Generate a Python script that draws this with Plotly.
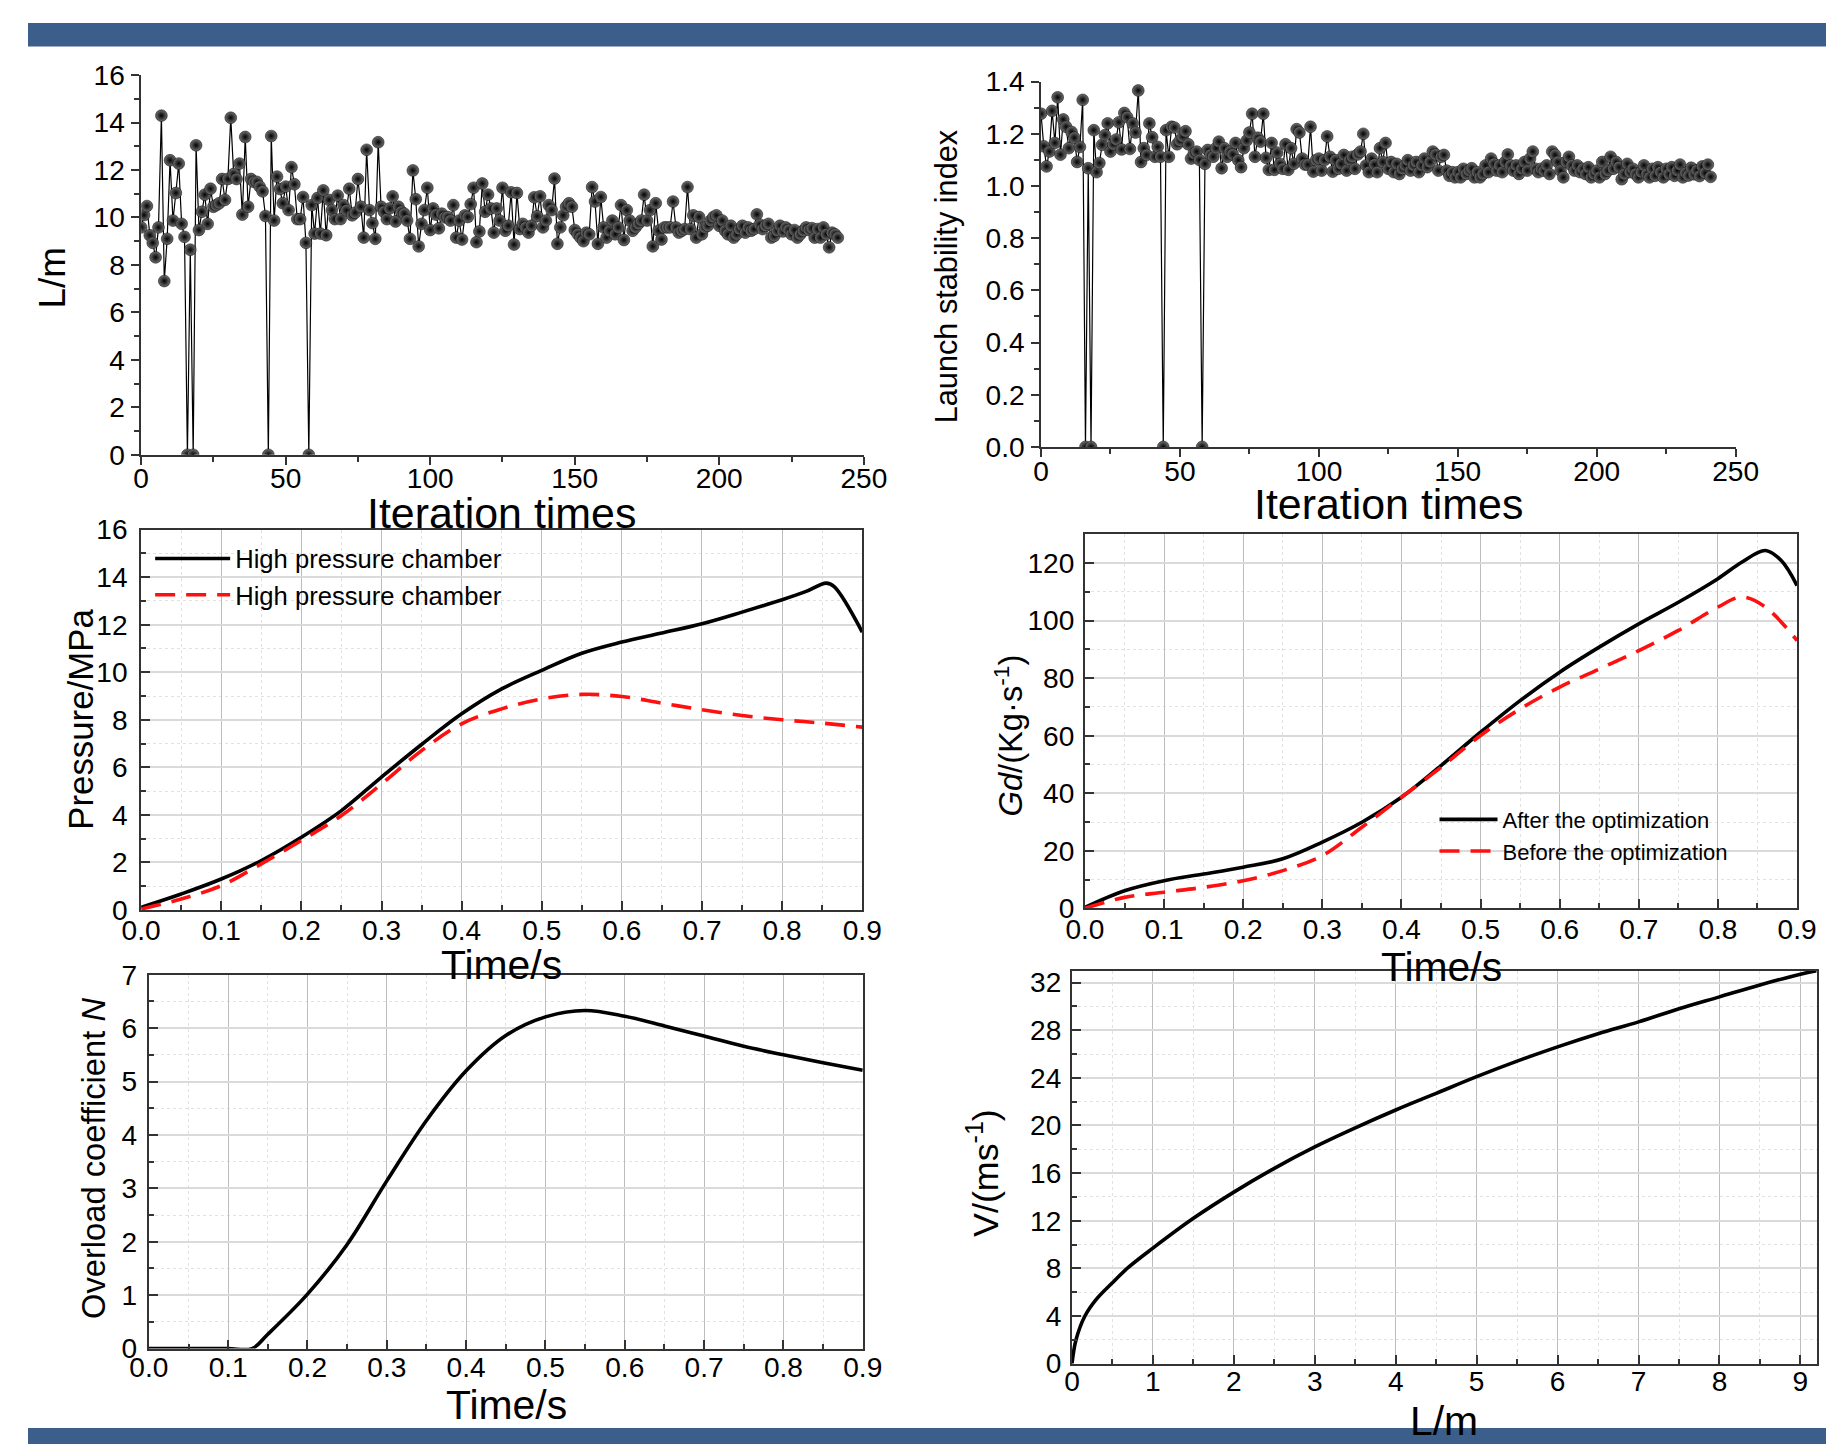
import plotly.graph_objects as go

# ---------------- data ----------------
L_iter = [
    9.58, 10.1, 10.48, 9.25, 8.93, 8.32, 9.58, 14.29, 7.32, 9.1,
    12.41, 9.87, 11.03, 12.27, 9.73, 9.18, 0, 8.64, 0, 13.04,
    9.47, 10.24, 10.96, 9.73, 11.21, 10.45, 10.52, 10.6, 11.62, 10.74,
    11.62, 14.2, 11.83, 11.62, 12.27, 10.12, 13.39, 10.45, 11.62, 11.5,
    11.5, 11.3, 11.1, 10.06, 0, 13.43, 9.87, 11.72, 11.2, 10.6,
    11.3, 10.31, 12.12, 11.4, 9.93, 9.93, 10.86, 8.93, 0, 10.52,
    9.32, 10.82, 9.32, 11.14, 9.25, 10.74, 10.31, 9.93, 10.92, 9.93,
    10.52, 10.3, 11.21, 10.09, 10.2, 11.62, 10.45, 9.15, 12.85, 10.31,
    9.76, 9.1, 13.17, 10.45, 10.24, 9.93, 10.38, 10.89, 9.83, 10.45,
    10.24, 10.16, 9.87, 9.1, 11.98, 10.77, 8.78, 9.73, 10.31, 11.25,
    9.47, 10.38, 10.12, 9.54, 10.16, 10.0, 10.02, 9.87, 10.52, 9.15,
    9.87, 9.07, 10.09, 10.02, 10.56, 11.25, 8.96, 9.41, 11.43, 10.24,
    10.96, 10.38, 9.36, 10.38, 9.87, 11.25, 9.44, 9.65, 11.06, 8.86,
    11.03, 9.51, 9.73, 9.58, 9.36, 9.65, 10.85, 10.05, 10.89, 9.58,
    9.87, 10.52, 10.31, 11.64, 8.89, 9.58, 10.09, 10.45, 10.6, 10.45,
    9.47, 9.3, 9.15, 9.0, 9.36, 9.29, 11.28, 10.67, 8.89, 10.86,
    9.58, 9.15, 9.44, 9.87, 9.29, 9.58, 10.52, 9.05, 10.31, 9.87,
    9.44, 9.58, 9.73, 9.87, 10.96, 9.87, 10.31, 8.78, 10.6, 9.44,
    9.07, 9.58, 9.58, 9.58, 10.67, 9.58, 9.36, 9.44, 9.51, 11.28,
    9.51, 10.09, 9.15, 10.02, 9.29, 9.58, 9.65, 9.87, 10.02, 10.09,
    9.65, 9.87, 9.44, 9.29, 9.65, 9.15, 9.29, 9.51, 9.65, 9.36,
    9.58, 9.44, 9.51, 10.13, 9.7, 9.51, 9.65, 9.73, 9.15, 9.22,
    9.44, 9.65, 9.41, 9.58, 9.47, 9.29, 9.47, 9.15, 9.29, 9.44,
    9.58, 9.47, 9.55, 9.15, 9.51, 9.15, 9.58, 9.29, 8.74, 9.36,
    9.29, 9.15,
]

stability_iter = [
    1.277, 1.152, 1.075, 1.132, 1.288, 1.165, 1.34, 1.12, 1.255, 1.227,
    1.145, 1.207, 1.185, 1.092, 1.15, 1.33, 0, 1.068, 0, 1.214,
    1.053, 1.088, 1.158, 1.195, 1.24, 1.132, 1.16, 1.178, 1.244, 1.14,
    1.28, 1.264, 1.142, 1.24, 1.205, 1.366, 1.092, 1.145, 1.119, 1.24,
    1.187, 1.112, 1.15, 1.112, 0, 1.214, 1.112, 1.227, 1.224, 1.16,
    1.174, 1.19, 1.21, 1.16, 1.105, 1.125, 1.132, 1.10, 0, 1.085,
    1.138, 1.119, 1.112, 1.145, 1.17, 1.068, 1.145, 1.112, 1.132, 1.121,
    1.165, 1.099, 1.072, 1.145, 1.174, 1.205, 1.277, 1.112, 1.185, 1.17,
    1.277, 1.108, 1.062, 1.165, 1.062, 1.128, 1.085, 1.066, 1.16, 1.062,
    1.145, 1.085, 1.218, 1.205, 1.105, 1.082, 1.082, 1.227, 1.055, 1.099,
    1.105, 1.059, 1.099, 1.19, 1.112, 1.055, 1.099, 1.066, 1.085, 1.119,
    1.059, 1.099, 1.112, 1.066, 1.121, 1.132, 1.2, 1.079, 1.053, 1.105,
    1.082, 1.053, 1.145, 1.092, 1.165, 1.066, 1.092, 1.053, 1.085, 1.046,
    1.066, 1.079, 1.099, 1.059, 1.079, 1.092, 1.053, 1.079, 1.105, 1.072,
    1.092, 1.132, 1.121, 1.059, 1.112, 1.119, 1.059, 1.039, 1.053, 1.033,
    1.053, 1.033, 1.066, 1.046, 1.059, 1.068, 1.033, 1.053, 1.033, 1.046,
    1.079, 1.053, 1.105, 1.085, 1.059, 1.079, 1.053, 1.092, 1.121, 1.079,
    1.059, 1.079, 1.046, 1.066, 1.092, 1.059, 1.105, 1.132, 1.066, 1.053,
    1.066, 1.059, 1.079, 1.046, 1.132, 1.119, 1.092, 1.059, 1.033, 1.092,
    1.112, 1.079, 1.059, 1.079, 1.053, 1.066, 1.046, 1.072, 1.033, 1.046,
    1.059, 1.033, 1.092, 1.046, 1.059, 1.112, 1.066, 1.092, 1.072, 1.026,
    1.046, 1.085, 1.053, 1.066, 1.046, 1.033, 1.053, 1.079, 1.046, 1.033,
    1.066, 1.039, 1.072, 1.053, 1.033, 1.066, 1.046, 1.072, 1.039, 1.059,
    1.082, 1.033, 1.05, 1.04, 1.07, 1.045, 1.06, 1.038, 1.075, 1.05,
    1.082, 1.035,
]

# Pressure vs time
t_p = [0.0, 0.05, 0.1, 0.15, 0.2, 0.25, 0.3, 0.35, 0.4, 0.45, 0.5, 0.55,
       0.6, 0.65, 0.7, 0.75, 0.8, 0.83, 0.855, 0.865, 0.9]
p_after = [0.11, 0.67, 1.3, 2.08, 3.06, 4.18, 5.59, 6.96, 8.25, 9.3, 10.08, 10.8,
           11.27, 11.65, 12.04, 12.53, 13.05, 13.4, 13.75, 13.6, 11.69]
t_p2 = [0.0, 0.05, 0.1, 0.15, 0.2, 0.25, 0.3, 0.35, 0.4, 0.45, 0.5, 0.55,
        0.6, 0.65, 0.7, 0.75, 0.8, 0.85, 0.9]
p_before = [0.04, 0.46, 1.02, 1.94, 2.92, 3.97, 5.3, 6.7, 7.83, 8.46, 8.88, 9.07,
            8.98, 8.7, 8.42, 8.18, 8.0, 7.86, 7.69]

# Gd vs time
t_g = [0.0, 0.05, 0.1, 0.15, 0.2, 0.25, 0.3, 0.35, 0.4, 0.45, 0.5, 0.55,
       0.6, 0.65, 0.7, 0.75, 0.8, 0.83, 0.86, 0.88, 0.9]
g_after = [0.3, 6.1, 9.6, 11.9, 14.3, 17.2, 23.0, 29.9, 38.6, 49.6, 61.2, 72.2,
           82.1, 90.8, 98.9, 106.4, 114.6, 120.3, 124.4, 120.9, 112.2]
t_g2 = [0.0, 0.05, 0.1, 0.15, 0.2, 0.25, 0.3, 0.35, 0.4, 0.45, 0.5, 0.55,
        0.6, 0.65, 0.7, 0.75, 0.8, 0.83, 0.86, 0.9]
g_before = [0.0, 3.8, 5.6, 7.3, 9.6, 13.1, 18.3, 28.2, 38.6, 49.0, 60.1, 69.3,
            76.9, 83.2, 89.6, 96.6, 104.7, 108.2, 104.7, 93.1]

# Overload coefficient vs time
t_n = [0.0, 0.05, 0.1, 0.13, 0.15, 0.2, 0.25, 0.3, 0.35, 0.4, 0.45, 0.5, 0.55,
       0.6, 0.65, 0.7, 0.75, 0.8, 0.85, 0.9]
n_coef = [0, 0, 0, 0, 0.27, 1.02, 1.95, 3.14, 4.27, 5.2, 5.86, 6.21, 6.33,
          6.22, 6.04, 5.85, 5.66, 5.5, 5.35, 5.21]

# Velocity vs displacement
L_v = [0.0, 0.05, 0.16, 0.3, 0.5, 0.7, 1.0, 1.5, 2.0, 2.5, 3.0, 3.5, 4.0,
       4.5, 5.0, 5.5, 6.0, 6.5, 7.0, 7.5, 8.0, 8.5, 9.0, 9.2]
v_vel = [0.0, 2.0, 4.0, 5.4, 6.8, 8.1, 9.7, 12.2, 14.4, 16.4, 18.2, 19.8, 21.3,
         22.7, 24.1, 25.4, 26.6, 27.7, 28.7, 29.8, 30.8, 31.8, 32.7, 33.0]

# ---------------- layout helpers ----------------
# The photographed page is scaled by S and offset by (OX, OY); positions below
# are target pixel positions in the final picture, converted to paper coords.
W, H = 1850, 1454
S, OX, OY = 0.978, 25.7, 23.0
FONT = "Liberation Sans, Arial, sans-serif"


def px(X):
    return (X - OX) / S / W


def py(Y):
    return 1 - (Y - OY) / S / H


def xd(a, b):
    return [max(0, px(a)), min(1, px(b))]


def yd(top, bottom):
    return [max(0, py(bottom)), min(1, py(top))]


def fs(v):
    return round(v / S, 1)


fig = go.Figure()

marker_ball = dict(size=fs(11.5), color="#707070",
                   gradient=dict(type="radial", color="#000000"),
                   line=dict(width=0.5, color="#000000"))

fig.add_trace(go.Scatter(x=list(range(len(L_iter))), y=L_iter, mode="lines+markers",
                         line=dict(color="black", width=1.2), marker=marker_ball,
                         xaxis="x", yaxis="y", showlegend=False))
fig.add_trace(go.Scatter(x=list(range(len(stability_iter))), y=stability_iter,
                         mode="lines+markers",
                         line=dict(color="black", width=1.2), marker=marker_ball,
                         xaxis="x2", yaxis="y2", showlegend=False))

fig.add_trace(go.Scatter(x=t_p, y=p_after, mode="lines", name="High pressure chamber",
                         line=dict(color="black", width=3.6, shape="spline"),
                         xaxis="x3", yaxis="y3", legend="legend"))
fig.add_trace(go.Scatter(x=t_p2, y=p_before, mode="lines", name="High pressure chamber",
                         line=dict(color="#ff1010", width=3.6, dash="20px,11px", shape="spline"),
                         xaxis="x3", yaxis="y3", legend="legend"))

fig.add_trace(go.Scatter(x=t_g, y=g_after, mode="lines", name="After the optimization",
                         line=dict(color="black", width=3.6, shape="spline"),
                         xaxis="x4", yaxis="y4", legend="legend2"))
fig.add_trace(go.Scatter(x=t_g2, y=g_before, mode="lines", name="Before the optimization",
                         line=dict(color="#ff1010", width=3.6, dash="20px,11px", shape="spline"),
                         xaxis="x4", yaxis="y4", legend="legend2"))

fig.add_trace(go.Scatter(x=t_n, y=n_coef, mode="lines",
                         line=dict(color="black", width=3.6, shape="spline"),
                         xaxis="x5", yaxis="y5", showlegend=False))
fig.add_trace(go.Scatter(x=L_v, y=v_vel, mode="lines",
                         line=dict(color="black", width=3.6, shape="spline"),
                         xaxis="x6", yaxis="y6", showlegend=False))

TICKFONT = dict(family=FONT, size=fs(27.5), color="black")


def open_axis(domain, rng, dtick, minor_dtick, anchor, standoff=0):
    return dict(domain=domain, range=rng, dtick=dtick, tick0=0, anchor=anchor,
                showgrid=False, zeroline=False, showline=True, linecolor="#333333",
                linewidth=1.5, ticks="outside", ticklen=8, tickwidth=1.5,
                tickcolor="#333333", tickfont=TICKFONT, mirror=False,
                ticklabelstandoff=standoff,
                minor=dict(dtick=minor_dtick, ticks="outside", ticklen=5,
                           tickcolor="#333333", showgrid=False))


def box_axis(domain, rng, dtick, minor_dtick, anchor, vertical, standoff=0):
    return dict(domain=domain, range=rng, dtick=dtick, tick0=0, anchor=anchor,
                showgrid=True,
                gridcolor="#bdbdbd" if vertical else "#dadada",
                gridwidth=1 if vertical else 2,
                zeroline=False, showline=True, linecolor="#333333",
                linewidth=2, mirror=True, ticks="inside", ticklen=9, tickwidth=1.5,
                tickcolor="#333333", tickfont=TICKFONT,
                ticklabelstandoff=standoff,
                minor=dict(dtick=minor_dtick, ticks="inside", ticklen=5,
                           tickcolor="#333333", showgrid=True,
                           gridcolor="#e2e2e2", griddash="dot", gridwidth=1))


layout = dict(
    width=W, height=H, autosize=False,
    margin=dict(l=0, r=0, t=0, b=0),
    paper_bgcolor="white", plot_bgcolor="white",
    font=dict(family=FONT, color="black"),
    xaxis=open_axis(xd(139, 862.6), [0, 250], 50, 25, "y", -10),
    yaxis=open_axis(yd(75, 454.5), [0, 16], 2, 1, "x", 1),
    xaxis2=open_axis(xd(1040, 1735.5), [0, 250], 50, 25, "y2", -9),
    yaxis2=open_axis(yd(81.6, 446.6), [0, 1.4], 0.2, 0.1, "x2", 1),
    xaxis3=box_axis(xd(139, 861), [0, 0.9], 0.1, 0.05, "y3", True, -6),
    yaxis3=box_axis(yd(529.3, 909.3), [0, 16], 2, 1, "x3", False, 6),
    xaxis4=box_axis(xd(1084, 1797), [0, 0.9], 0.1, 0.05, "y4", True, -5),
    yaxis4=box_axis(yd(534, 907.7), [0, 130], 20, 10, "x4", False, 3),
    xaxis5=box_axis(xd(146.7, 861.5), [0, 0.9], 0.1, 0.05, "y5", True, -7),
    yaxis5=box_axis(yd(974, 1347.7), [0, 7], 1, 0.5, "x5", False, 4),
    xaxis6=box_axis(xd(1071, 1816.6), [0, 9.2], 1, 0.5, "y6", True, -8),
    yaxis6=box_axis(yd(970, 1362.7), [0, 33], 4, 2, "x6", False, 3),
    legend=dict(x=px(148), y=py(535), xanchor="left", yanchor="top",
                bgcolor="rgba(0,0,0,0)", font=dict(family=FONT, size=fs(25)),
                tracegroupgap=0, itemwidth=75),
    legend2=dict(x=px(1434), y=py(798), xanchor="left", yanchor="top",
                 bgcolor="rgba(0,0,0,0)", font=dict(family=FONT, size=fs(21.5)),
                 tracegroupgap=0, itemwidth=58),
)
fig.update_layout(**layout)
for ax in ["xaxis3", "xaxis4", "xaxis5"]:
    fig.layout[ax].tickformat = ".1f"
fig.layout.yaxis2.tickformat = ".1f"


# ---------------- axis titles (annotations) ----------------
def ann(xp, yp, text, size, angle=0):
    fig.add_annotation(x=px(xp), y=py(yp), xref="paper", yref="paper",
                       text=text, showarrow=False, textangle=angle,
                       font=dict(family=FONT, size=fs(size), color="black"),
                       xanchor="center", yanchor="middle")


ann(500, 513, "Iteration times", 42)
ann(1388, 504, "Iteration times", 42)
ann(50, 278, "L/m", 36, -90)
ann(945, 276, "Launch stability index", 30, -90)
ann(500, 964, "Time/s", 40)
ann(1441, 966, "Time/s", 40)
ann(78, 719, "Pressure/MPa", 34, -90)
ann(1008, 735, "<i>Gd</i>/(Kg·s<sup>-1</sup>)", 32, -90)
ann(505, 1404, "Time/s", 40)
ann(92, 1158, "Overload coefficient <i>N</i>", 32, -90)
ann(1444, 1420, "L/m", 40)
ann(982, 1172, "V/(ms<sup>-1</sup>)", 35, -90)

# ---------------- decorative bands ----------------
fig.add_shape(type="rect", xref="paper", yref="paper", x0=0, x1=1,
              y0=py(46.5), y1=min(1, py(20.7)),
              fillcolor="#3c5e8a", line=dict(width=0), layer="below")
fig.add_shape(type="rect", xref="paper", yref="paper", x0=0, x1=1,
              y0=0, y1=py(1427),
              fillcolor="#3c5e8a", line=dict(width=0), layer="below")

fig.write_html("out.html")
